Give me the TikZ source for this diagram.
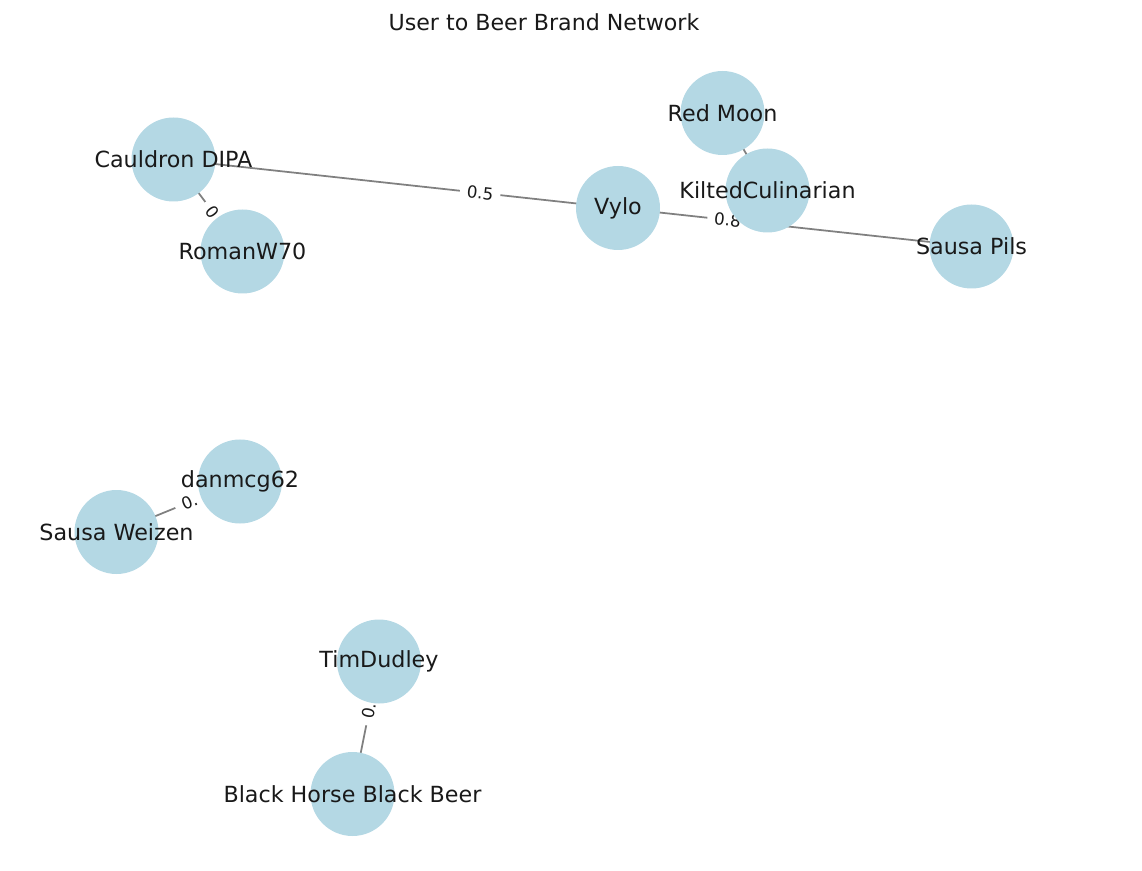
\documentclass[tikz,border=0pt]{standalone}
\usepackage{fontspec}
\setmainfont{DejaVu Sans}
\usetikzlibrary{backgrounds}

\definecolor{nodeblue}{RGB}{180,216,228}
\definecolor{edgegray}{RGB}{128,128,128}

\begin{document}
\begin{tikzpicture}[
    vertex/.style={circle, fill=nodeblue, minimum size=1.68cm, inner sep=0pt},
    every label/.style={font=\fontsize{12.65}{15}\selectfont, inner sep=0pt, text=black!90},
    link/.style={edgegray, line width=1pt},
    weight/.style={sloped, fill=white, rounded corners=2pt, inner xsep=4pt, inner ysep=1pt,
        font=\fontsize{9.5}{12}\selectfont, text=black!90}]

    \useasboundingbox (0,0) rectangle (22.84,17.4);

    % Title
    \node[font=\fontsize{12.6}{15}\selectfont, text=black!90] (title) at (10.88,16.96) {User to Beer Brand Network};

    % Upper cluster
    \node[vertex, label=center:{Cauldron DIPA}] (cauldron) at (3.47,14.21) {};
    \node[vertex, label=center:{RomanW70}] (roman) at (4.85,12.37) {};
    \node[vertex, label=center:{Vylo}] (vylo) at (12.36,13.24) {};
    \node[vertex, label=center:{Red Moon}] (redmoon) at (14.45,15.14) {};
    \node[vertex, label=center:{KiltedCulinarian}] (kilted) at (15.35,13.59) {};
    \node[vertex, label=center:{Sausa Pils}] (sausapils) at (19.43,12.47) {};

    % Lower pairs
    \node[vertex, label=center:{danmcg62}] (danmcg) at (4.80,7.77) {};
    \node[vertex, label=center:{Sausa Weizen}] (weizen) at (2.33,6.76) {};
    \node[vertex, label=center:{TimDudley}] (tim) at (7.58,4.17) {};
    \node[vertex, label=center:{Black Horse Black Beer}] (blackhorse) at (7.05,1.52) {};

    % Weighted edges, drawn under the nodes
    \begin{scope}[on background layer]
    \draw[link] (vylo.center) -- node[weight, pos=0.31] {0.5} (cauldron.center);
    \draw[link] (vylo.center) -- node[weight, pos=0.31] {0.8} (sausapils.center);
    \draw[link] (roman.center) -- node[weight, pos=0.43] {0} (cauldron.center);
    \draw[link] (kilted.center) -- (redmoon.center);
    \draw[link] (danmcg.center) -- node[weight, pos=0.41] {0.} (weizen.center);
    \draw[link] (tim.center) -- node[weight, pos=0.37] {0.} (blackhorse.center);
    \end{scope}

\end{tikzpicture}
\end{document}
